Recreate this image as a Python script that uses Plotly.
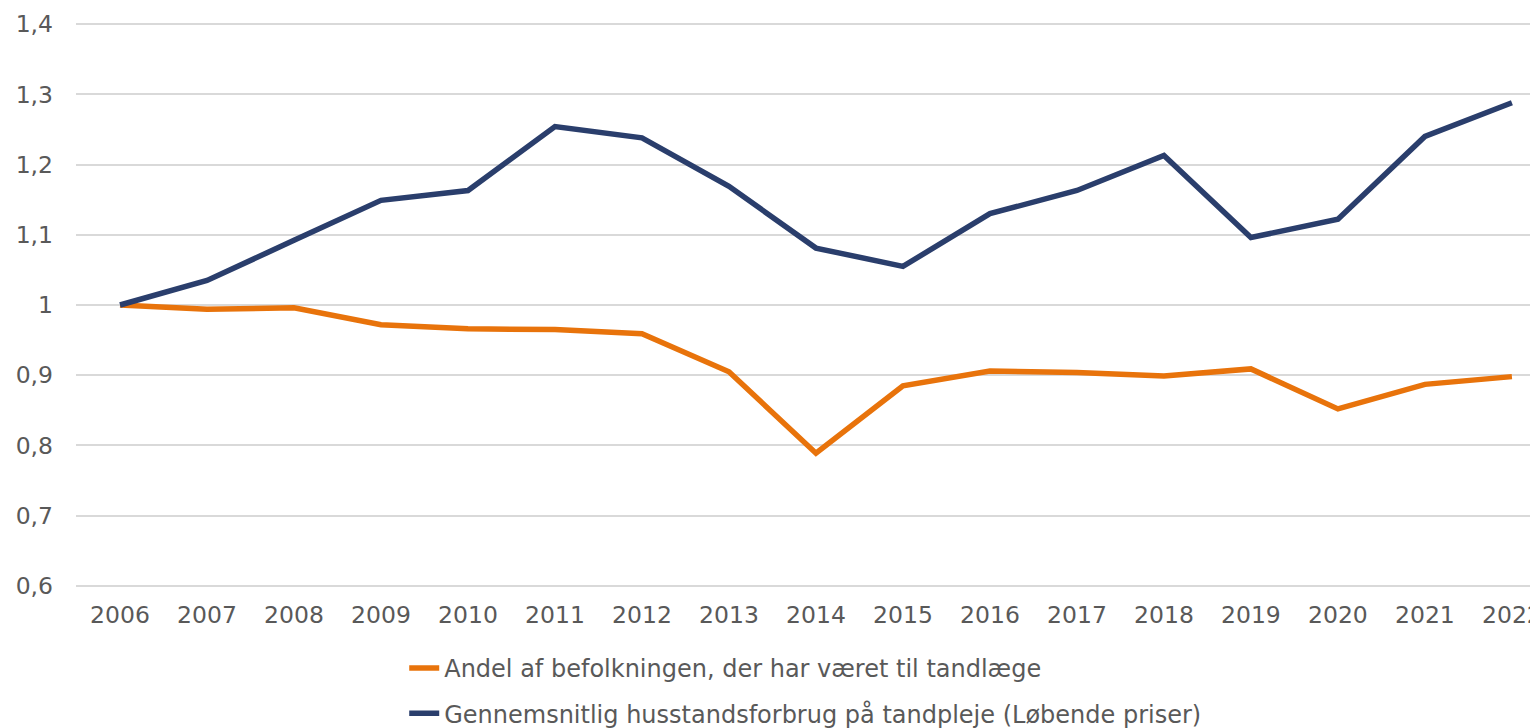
import plotly.graph_objects as go

years = [str(y) for y in range(2006, 2023)]
andel = [1.0, 0.994, 0.996, 0.972, 0.966, 0.965, 0.959, 0.905, 0.789, 0.885,
         0.906, 0.904, 0.899, 0.909, 0.852, 0.887, 0.898]
forbrug = [1.0, 1.035, 1.092, 1.149, 1.163, 1.254, 1.238, 1.169, 1.081, 1.055,
           1.130, 1.163, 1.213, 1.096, 1.122, 1.240, 1.288]
ytick_vals = [0.6, 0.7, 0.8, 0.9, 1.0, 1.1, 1.2, 1.3, 1.4]
ytick_text = ["0,6", "0,7", "0,8", "0,9", "1", "1,1", "1,2", "1,3", "1,4"]

name_a = "Andel af befolkningen, der har været til tandlæge"
name_b = "Gennemsnitlig husstandsforbrug på tandpleje (Løbende priser)"

FONT = "DejaVu Sans, Verdana, sans-serif"
GREY = "#595959"
FS = 23.5

fig = go.Figure()
fig.add_trace(go.Scatter(x=years, y=andel, mode="lines", name=name_a,
                         legendgroup="a",
                         line=dict(color="#E8730B", width=5.5)))
fig.add_trace(go.Scatter(x=years, y=forbrug, mode="lines", name=name_b,
                         legendgroup="b",
                         line=dict(color="#2A3E6C", width=5.5)))

# page body adds an 8px offset; figure slightly taller than window so legend fits
fig.update_layout(
    width=1530, height=740,
    margin=dict(l=68, r=0, t=15, b=0),
    paper_bgcolor="white", plot_bgcolor="white",
    font=dict(family=FONT, size=FS, color=GREY),
    showlegend=True,
    legend=dict(orientation="v", x=0.2245, xanchor="left", y=0.1407, yanchor="top",
                traceorder="grouped", tracegroupgap=11,
                font=dict(family=FONT, size=24, color=GREY),
                bgcolor="rgba(0,0,0,0)"),
    xaxis=dict(type="category", range=[-0.506, 16.30], showgrid=False,
               showline=False, zeroline=False, ticks="", automargin=False,
               tickfont=dict(family=FONT, size=FS, color=GREY),
               ticklabelstandoff=12),
    yaxis=dict(domain=[0.2221, 1.0],
               range=[0.5985, 1.4015], tickvals=ytick_vals, ticktext=ytick_text,
               showgrid=True, gridcolor="#D9D9D9", gridwidth=1.5,
               zeroline=False, showline=False, ticks="", automargin=False,
               tickfont=dict(family=FONT, size=FS, color=GREY),
               ticklabelstandoff=22),
)

fig.write_html("out.html")
